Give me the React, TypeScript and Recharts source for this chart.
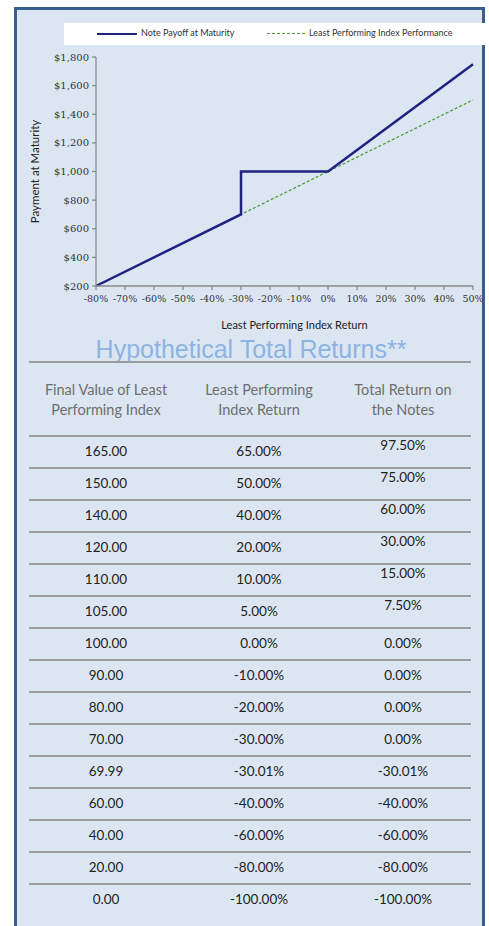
import React from "react";
import { Label, Line, LineChart, XAxis, YAxis } from "recharts";

// payoff diagram values (x = least performing index return, %)
const payoffReturns = [-80, -30, -30, 0, 50];
const payoffValues = [200, 700, 1000, 1000, 1750];
const indexReturns = [-80, 50];
const indexValues = [200, 1500];

const xTicks = [-80, -70, -60, -50, -40, -30, -20, -10, 0, 10, 20, 30, 40, 50];
const yTicks = [200, 400, 600, 800, 1000, 1200, 1400, 1600, 1800];

const seriesNames = ["Note Payoff at Maturity", "Least Performing Index Performance"];

// table
const headers = ["Final Value of Least\nPerforming Index", "Least Performing\nIndex Return", "Total Return on\nthe Notes"];
const finalValues = ["165.00", "150.00", "140.00", "120.00", "110.00", "105.00", "100.00", "90.00", "80.00", "70.00", "69.99", "60.00", "40.00", "20.00", "0.00"];
const indexReturnText = ["65.00%", "50.00%", "40.00%", "20.00%", "10.00%", "5.00%", "0.00%", "-10.00%", "-20.00%", "-30.00%", "-30.01%", "-40.00%", "-60.00%", "-80.00%", "-100.00%"];
const noteReturnText = ["97.50%", "75.00%", "60.00%", "30.00%", "15.00%", "7.50%", "0.00%", "0.00%", "0.00%", "0.00%", "-30.01%", "-40.00%", "-60.00%", "-80.00%", "-100.00%"];

const NAVY = "#1f2280";
const GREEN = "#4f9e3c";

const payoffData = payoffReturns.map((x, i) => ({ x, y: payoffValues[i] }));
const indexData = indexReturns.map((x, i) => ({ x, y: indexValues[i] }));

const fmtDollar = (v: number) => "$" + v.toLocaleString("en-US");

const colCenters = [89, 242, 386];

export default function App() {
  return (
    <div
      style={{
        position: "absolute",
        left: 14,
        top: 7,
        width: 471,
        height: 940,
        boxSizing: "border-box",
        border: "3px solid #3a5f8e",
        background: "#dce6f2",
        fontFamily: "Lato, 'Open Sans', sans-serif",
      }}
    >
      {/* legend */}
      <div
        style={{
          position: "absolute",
          left: 47,
          top: 13,
          width: 425,
          height: 22,
          background: "#fff",
          fontSize: 9,
          color: "#333",
        }}
      >
        <div style={{ position: "absolute", left: 33, top: 10, width: 40, height: 0, borderTop: `2.5px solid ${NAVY}` }} />
        <span style={{ position: "absolute", left: 77, top: 4 }}>{seriesNames[0]}</span>
        <div style={{ position: "absolute", left: 203, top: 10, width: 38, height: 0, borderTop: `1.5px dashed ${GREEN}` }} />
        <span style={{ position: "absolute", left: 245, top: 4 }}>{seriesNames[1]}</span>
      </div>

      <div style={{ position: "absolute", left: 0, top: 0 }}>
        <LineChart width={466} height={330} margin={{ top: 47, right: 10, left: 0, bottom: 10 }}>
          <XAxis
            dataKey="x"
            type="number"
            domain={[-80, 50]}
            ticks={xTicks}
            tickFormatter={(v) => `${v}%`}
            interval={0}
            height={44}
            tickSize={4}
            tickMargin={5}
            stroke="#8a8a8a"
            strokeWidth={1.3}
            tick={{ fill: "#333", fontSize: 9.5, fontFamily: "'DejaVu Serif', serif" }}
          >
            <Label
              value="Least Performing Index Return"
              position="insideBottom"
              offset={1}
              dx={10}
              style={{ fill: "#222", fontSize: 11, fontFamily: "Lato, sans-serif" }}
            />
          </XAxis>
          <YAxis
            dataKey="y"
            type="number"
            domain={[200, 1800]}
            ticks={yTicks}
            tickFormatter={fmtDollar}
            interval={0}
            width={79}
            tickSize={4}
            tickMargin={3}
            stroke="#8a8a8a"
            strokeWidth={1.3}
            tick={{ fill: "#333", fontSize: 10, fontFamily: "'DejaVu Serif', serif" }}
          >
            <Label
              value="Payment at Maturity"
              angle={-90}
              position="insideLeft"
              offset={18}
              style={{ fill: "#222", fontSize: 11.5, fontFamily: "Lato, sans-serif", textAnchor: "middle" }}
            />
          </YAxis>
          <Line
            data={indexData}
            dataKey="y"
            type="linear"
            stroke={GREEN}
            strokeWidth={1.3}
            strokeDasharray="3 2"
            dot={false}
            isAnimationActive={false}
          />
          <Line
            data={payoffData}
            dataKey="y"
            type="linear"
            stroke={NAVY}
            strokeWidth={2.5}
            dot={false}
            isAnimationActive={false}
          />
        </LineChart>
      </div>

      {/* table */}
      <div
        style={{
          position: "absolute",
          left: 0,
          top: 325,
          width: 468,
          textAlign: "center",
          fontFamily: "'Liberation Sans', Arial, sans-serif",
          fontSize: 25,
          color: "#8db3e2",
        }}
      >
        Hypothetical Total Returns**
      </div>
      <div style={{ position: "absolute", left: 12, top: 351, width: 442, height: 2, background: "#9c9c9c" }} />

      {headers.map((h, c) => (
        <div
          key={h}
          style={{
            position: "absolute",
            left: colCenters[c] - 90,
            top: 370,
            width: 180,
            textAlign: "center",
            whiteSpace: "pre-line",
            fontSize: 14.5,
            lineHeight: "20px",
            color: "#6e6e6e",
          }}
        >
          {h}
        </div>
      ))}

      {finalValues.map((v, r) => (
        <React.Fragment key={v}>
          <div style={{ position: "absolute", left: 12, top: 425 + r * 32, width: 442, height: 2, background: "#9c9c9c" }} />
          {[v, indexReturnText[r], noteReturnText[r]].map((t, c) => (
            <div
              key={c}
              style={{
                position: "absolute",
                left: colCenters[c] - 60,
                top: 433 + r * 32 - (c === 2 && r < 6 ? 6 : 0),
                width: 120,
                textAlign: "center",
                fontSize: 13.5,
                color: "#222",
              }}
            >
              {t}
            </div>
          ))}
        </React.Fragment>
      ))}
    </div>
  );
}
